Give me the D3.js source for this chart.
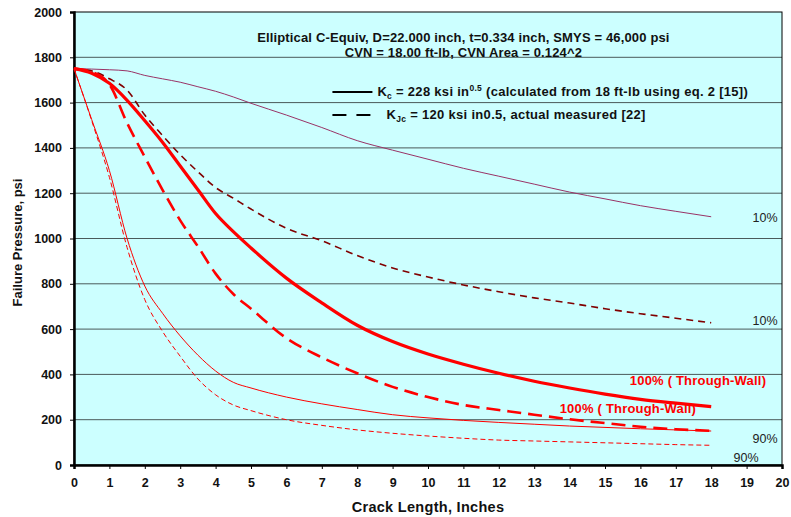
<!DOCTYPE html>
<html>
<head>
<meta charset="utf-8">
<script src="https://cdn.jsdelivr.net/npm/d3@7"></script>
<style>
  body { margin: 0; background: #fff; }
  text { font-family: "Liberation Sans", Arial, sans-serif; }
</style>
</head>
<body>
<div id="chart"></div>
<script>
// crack lengths (inches) shared by every curve
var crackLen = [0, 0.5, 1, 1.5, 2, 2.5, 3, 3.5, 4, 4.5, 5, 6, 7, 8, 9, 10, 11, 12, 13, 14, 15, 16, 17, 18];

// failure pressures, psi
var kc10 = [1750, 1748, 1745, 1740, 1720, 1705, 1690, 1670, 1650, 1625, 1597, 1545, 1490, 1432, 1390, 1350, 1310, 1275, 1240, 1205, 1175, 1145, 1120, 1096];
var kjc10 = [1750, 1740, 1705, 1655, 1545, 1455, 1370, 1295, 1225, 1178, 1130, 1045, 990, 925, 870, 830, 795, 765, 738, 715, 690, 668, 648, 628];
var kc100 = [1750, 1730, 1685, 1610, 1520, 1425, 1320, 1215, 1110, 1030, 958, 825, 716, 617, 545, 490, 445, 405, 370, 340, 313, 290, 273, 258];
var kjc100 = [1750, 1735, 1680, 1510, 1360, 1215, 1080, 965, 845, 755, 690, 560, 475, 405, 345, 300, 265, 243, 222, 202, 185, 169, 158, 151];
var kc90 = [1750, 1525, 1300, 1000, 790, 670, 570, 485, 415, 365, 340, 300, 270, 245, 222, 208, 197, 188, 180, 172, 166, 160, 155, 150];
var kjc90 = [1750, 1520, 1270, 960, 730, 590, 480, 380, 310, 265, 240, 200, 175, 155, 140, 128, 118, 110, 106, 102, 98, 94, 90, 87];

var xTicks = d3.range(0, 21, 1);
var yTicks = d3.range(0, 2001, 200);

// set the dimensions and margins of the graph
var margin = { top: 12, right: 9, bottom: 52, left: 74 },
  width = 791 - margin.left - margin.right,
  height = 517 - margin.top - margin.bottom;

var svg = d3
  .select("#chart")
  .append("svg")
  .attr("width", 791)
  .attr("height", 517);

var g = svg
  .append("g")
  .attr("transform", "translate(" + margin.left + "," + margin.top + ")");

var x = d3.scaleLinear().domain([0, 20]).range([0, width]);
var y = d3.scaleLinear().domain([0, 2000]).range([height, 0]);

// plot background
g.append("rect")
  .attr("width", width)
  .attr("height", height)
  .style("fill", "#ccffff");

// horizontal grid lines
g.selectAll(".grid")
  .data(yTicks.filter(function (d) { return d > 0 && d < 2000; }))
  .enter()
  .append("line")
  .attr("x1", 0)
  .attr("x2", width)
  .attr("y1", function (d) { return y(d); })
  .attr("y2", function (d) { return y(d); })
  .style("stroke", "#4a5a5a")
  .style("stroke-width", 1);

// plot border
g.append("rect")
  .attr("width", width)
  .attr("height", height)
  .style("fill", "none")
  .style("stroke", "#000")
  .style("stroke-width", 1);

// axes
var xAxis = g
  .append("g")
  .attr("transform", "translate(0," + height + ")")
  .call(d3.axisBottom(x).tickValues(xTicks).tickSize(4).tickPadding(9).tickFormat(d3.format("d")));
var yAxis = g
  .append("g")
  .call(d3.axisLeft(y).tickValues(yTicks).tickSize(4).tickPadding(8).tickFormat(d3.format("d")));

[xAxis, yAxis].forEach(function (a) {
  a.select(".domain").style("stroke", "#000").style("stroke-width", 2.5);
  a.selectAll(".tick line").style("stroke", "#000");
  a.selectAll(".tick text")
    .style("font-family", "Liberation Sans, Arial, sans-serif")
    .style("font-size", "12.5px")
    .style("font-weight", "bold")
    .style("fill", "#111");
});

// axis titles
svg.append("text")
  .attr("x", margin.left + width / 2)
  .attr("y", 512)
  .attr("text-anchor", "middle")
  .style("font-size", "14.5px")
  .style("letter-spacing", "0.3px")
  .style("font-weight", "bold")
  .style("fill", "#111")
  .text("Crack Length, Inches");

svg.append("text")
  .attr("transform", "translate(22," + (margin.top + height / 2 + 4) + ") rotate(-90)")
  .attr("text-anchor", "middle")
  .style("font-size", "13px")
  .style("font-weight", "bold")
  .style("fill", "#111")
  .text("Failure Pressure, psi");

// curves
var series = [
  { values: kc10, color: "#993366", width: 1, dash: null },
  { values: kjc10, color: "#800000", width: 1.6, dash: "7,5" },
  { values: kc90, color: "#ff0000", width: 1, dash: null },
  { values: kjc90, color: "#ff0000", width: 1, dash: "5,3" },
  { values: kjc100, color: "#ff0000", width: 2.6, dash: "14,7" },
  { values: kc100, color: "#ff0000", width: 3.2, dash: null }
];

var line = d3
  .line()
  .x(function (d) { return x(d[0]); })
  .y(function (d) { return y(d[1]); })
  .curve(d3.curveMonotoneX);

g.selectAll(".curve")
  .data(series)
  .enter()
  .append("path")
  .attr("d", function (s) {
    return line(crackLen.map(function (c, i) { return [c, s.values[i]]; }));
  })
  .style("fill", "none")
  .style("stroke", function (s) { return s.color; })
  .style("stroke-width", function (s) { return s.width; })
  .style("stroke-dasharray", function (s) { return s.dash; })
  .style("stroke-linejoin", "round");

// title lines
g.append("text")
  .attr("x", x(11))
  .attr("y", 30)
  .attr("text-anchor", "middle")
  .style("font-size", "13px")
  .style("letter-spacing", "0.15px")
  .style("font-weight", "bold")
  .style("fill", "#111")
  .text("Elliptical C-Equiv, D=22.000 inch, t=0.334 inch, SMYS = 46,000 psi");
g.append("text")
  .attr("x", x(11))
  .attr("y", 45)
  .attr("text-anchor", "middle")
  .style("font-size", "13px")
  .style("letter-spacing", "0.15px")
  .style("font-weight", "bold")
  .style("fill", "#111")
  .text("CVN = 18.00 ft-lb, CVN Area = 0.124^2");

// legend
var legY1 = 80, legY2 = 103;
g.append("line")
  .attr("x1", x(7.3)).attr("x2", x(8.43))
  .attr("y1", legY1).attr("y2", legY1)
  .style("stroke", "#000").style("stroke-width", 2);
g.append("line")
  .attr("x1", x(7.3)).attr("x2", x(8.43))
  .attr("y1", legY2).attr("y2", legY2)
  .style("stroke", "#000").style("stroke-width", 2)
  .style("stroke-dasharray", "14,10");

var t1 = g.append("text")
  .attr("x", x(8.57))
  .attr("y", legY1 + 4)
  .style("font-size", "13px")
  .style("letter-spacing", "0.3px")
  .style("font-weight", "bold")
  .style("fill", "#111");
t1.append("tspan").text("K");
t1.append("tspan").attr("dy", 3).style("font-size", "8.5px").text("c");
t1.append("tspan").attr("dy", -3).text(" = 228 ksi in");
t1.append("tspan").attr("dy", -5).style("font-size", "8.5px").text("0.5");
t1.append("tspan").attr("dy", 5).text(" (calculated from 18 ft-lb using eq. 2 [15])");

var t2 = g.append("text")
  .attr("x", x(8.83))
  .attr("y", legY2 + 4)
  .style("font-size", "13px")
  .style("letter-spacing", "0.3px")
  .style("font-weight", "bold")
  .style("fill", "#111");
t2.append("tspan").text("K");
t2.append("tspan").attr("dy", 3).style("font-size", "8.5px").text("Jc");
t2.append("tspan").attr("dy", -3).text(" = 120 ksi in0.5, actual measured [22]");

// curve labels
var labels = [
  { text: "10%", x: 19.17, v: 1072, color: "#222", bold: false },
  { text: "10%", x: 19.17, v: 620, color: "#222", bold: false },
  { text: "100% ( Through-Wall)", x: 15.7, v: 352, color: "#ff0000", bold: true },
  { text: "100% ( Through-Wall)", x: 13.72, v: 228, color: "#ff0000", bold: true },
  { text: "90%", x: 19.17, v: 97, color: "#222", bold: false },
  { text: "90%", x: 18.63, v: 14, color: "#222", bold: false }
];
g.selectAll(".lab")
  .data(labels)
  .enter()
  .append("text")
  .attr("x", function (d) { return x(d.x); })
  .attr("y", function (d) { return y(d.v); })
  .style("font-size", function (d) { return d.bold ? "13px" : "12.5px"; })
  .style("letter-spacing", function (d) { return d.bold ? "0.2px" : "0px"; })
  .style("font-weight", function (d) { return d.bold ? "bold" : "normal"; })
  .style("fill", function (d) { return d.color; })
  .text(function (d) { return d.text; });
</script>
</body>
</html>
